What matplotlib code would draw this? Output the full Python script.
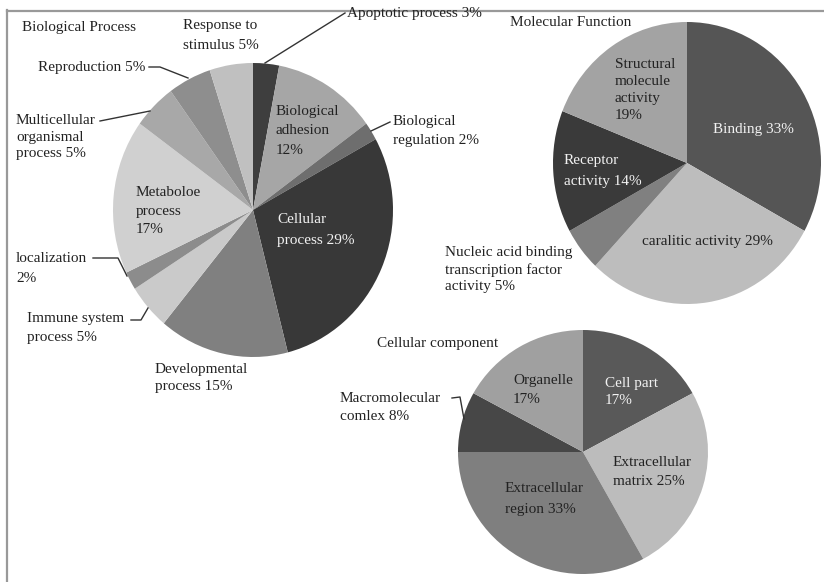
import numpy as np
import matplotlib.pyplot as plt

W, H = 824, 582

# Biological Process (clockwise from top)
bp_names = ["Apoptotic process", "Biological adhesion", "Biological regulation",
            "Cellular process", "Developmental process", "Immune system process",
            "localization", "Metaboloe process", "Multicellular organismal process",
            "Reproduction", "Response to stimulus"]
bp_values = [3, 12, 2, 29, 15, 5, 2, 17, 5, 5, 5]
bp_colors = ["#3e3e3e", "#a6a6a6", "#6e6e6e", "#383838", "#808080", "#cacaca",
             "#8c8c8c", "#d0d0d0", "#a8a8a8", "#8e8e8e", "#c0c0c0"]

# Molecular Function
mf_names = ["Binding", "caralitic activity", "Nucleic acid binding transcription factor activity",
            "Receptor activity", "Structural molecule activity"]
mf_values = [33, 29, 5, 14, 19]
mf_colors = ["#555555", "#bdbdbd", "#808080", "#3a3a3a", "#a3a3a3"]

# Cellular component
cc_names = ["Cell part", "Extracellular matrix", "Extracellular region",
            "Macromolecular comlex", "Organelle"]
cc_values = [17, 25, 33, 8, 17]
cc_colors = ["#595959", "#bcbcbc", "#7f7f7f", "#474747", "#a0a0a0"]

TXT = "#222222"


def pie_axes(fig, cx, cy, rx, ry, values, colors):
    ax = fig.add_axes([(cx - rx) / W, 1 - (cy + ry) / H, 2 * rx / W, 2 * ry / H])
    ax.pie(values, colors=colors, startangle=90, counterclock=False, radius=1,
           wedgeprops=dict(linewidth=0))
    ax.set_xlim(-1, 1)
    ax.set_ylim(-1, 1)
    ax.set_aspect('auto')
    ax.axis('off')
    return ax


def label(ax, x, y, s, color=TXT, ls=1.4, size=11):
    ax.text(x, y, s, ha='left', va='center', color=color, fontsize=size,
            family='Liberation Serif', linespacing=ls)


def main():
    fig = plt.figure(figsize=(W / 100, H / 100), dpi=100)

    pie_axes(fig, 253, 210, 140, 147, bp_values, bp_colors)
    pie_axes(fig, 687, 163, 134, 141, mf_values, mf_colors)
    pie_axes(fig, 583, 452, 125, 122, cc_values, cc_colors)

    ax = fig.add_axes([0, 0, 1, 1], zorder=5)
    ax.set_xlim(0, W)
    ax.set_ylim(H, 0)
    ax.axis('off')
    ax.patch.set_alpha(0)

    # frame
    ax.plot([7, W], [10.5, 10.5], color="#999999", lw=1.6)
    ax.plot([7.5, 7.5], [10, H], color="#999999", lw=1.6)

    # Biological Process
    label(ax, 22, 27, "Biological Process")
    label(ax, 183, 35.5, "Response to\nstimulus 5%", ls=1.64)
    label(ax, 347, 13, "Apoptotic process 3%")
    label(ax, 276, 131, "Biological\nadhesion\n12%", ls=1.6)
    label(ax, 393, 131, "Biological\nregulation 2%", ls=1.56)
    label(ax, 277, 230, "Cellular\nprocess 29%", color="#f2f2f2", ls=1.8)
    label(ax, 155, 378, "Developmental\nprocess 15%", ls=1.4)
    label(ax, 27, 328, "Immune system\nprocess 5%", ls=1.56)
    label(ax, 16, 268.5, "localization\n2%", ls=1.64)
    label(ax, 136, 211, "Metaboloe\nprocess\n17%", ls=1.56)
    label(ax, 16, 137, "Multicellular\norganismal\nprocess 5%", ls=1.4)
    label(ax, 38, 67, "Reproduction 5%")

    lc = dict(color="#333333", lw=1)
    ax.plot([265, 345], [63, 13], **lc)
    ax.plot([371, 390], [131, 122], **lc)
    ax.plot([131, 141, 148], [320, 320, 308], **lc)
    ax.plot([93, 118, 127], [258, 258, 276], **lc)
    ax.plot([100, 150], [121, 111], **lc)
    ax.plot([149, 160, 188], [67, 67, 78], **lc)

    # Molecular Function
    label(ax, 510, 22, "Molecular Function")
    label(ax, 615, 90, "Structural\nmolecule\nactivity\n19%", ls=1.4)
    label(ax, 713, 130, "Binding 33%", color="#f2f2f2")
    label(ax, 564, 171, "Receptor\nactivity 14%", color="#f2f2f2", ls=1.72)
    label(ax, 642, 242, "caralitic activity 29%")
    label(ax, 445, 269.5, "Nucleic acid binding\ntranscription factor\nactivity 5%", ls=1.37)

    # Cellular component
    label(ax, 377, 343, "Cellular component")
    label(ax, 513, 390, "Organelle\n17%", ls=1.56)
    label(ax, 605, 392, "Cell part\n17%", color="#f2f2f2", ls=1.4)
    label(ax, 613, 472, "Extracellular\nmatrix 25%", ls=1.56)
    label(ax, 505, 499, "Extracellular\nregion 33%", ls=1.72)
    label(ax, 340, 407.5, "Macromolecular\ncomlex 8%", ls=1.48)
    ax.plot([452, 460, 464], [398, 397, 419], **lc)

    plt.savefig("out.png", dpi=100)


if __name__ == '__main__':
    main()
